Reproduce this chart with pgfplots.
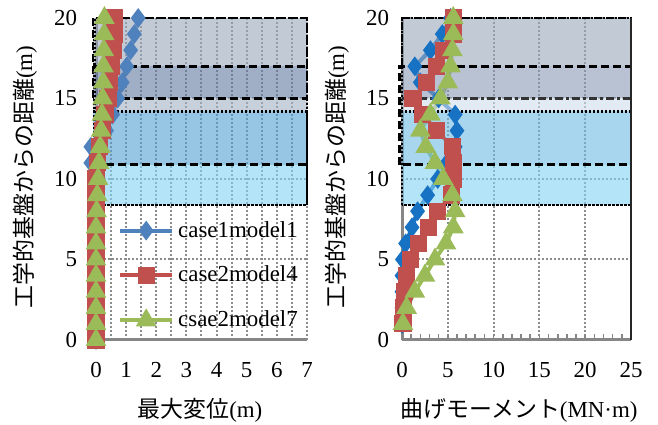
\documentclass[border=0pt]{standalone}
\usepackage{fontspec}
\setmainfont{Liberation Serif}
\newfontfamily\jp{Noto Sans CJK JP}
\usepackage{pgfplots}
\usepackage{pgfplotstable}
\pgfplotsset{compat=1.18}
\definecolor{cB}{RGB}{79,129,189}
\definecolor{cBr}{RGB}{24,114,196}
\definecolor{cR}{RGB}{192,80,77}
\definecolor{cG}{RGB}{155,187,89}
\definecolor{axg}{RGB}{134,134,134}
\definecolor{grd}{RGB}{140,140,140}
\definecolor{bA}{RGB}{153,167,187}
\definecolor{bBl}{RGB}{97,122,160}
\definecolor{bBr}{RGB}{137,153,180}
\definecolor{bCl}{RGB}{163,177,197}
\definecolor{bCr}{RGB}{207,220,237}
\definecolor{bDl}{RGB}{80,160,210}
\definecolor{bDr}{RGB}{110,187,227}
\definecolor{bE}{RGB}{130,210,243}
\pgfplotstableread{
y b r g
0 0 0 0
1 0 0 0
2 0 0 0
3 0 0 0
4 0 0 0
5 0 0 0
6 0 0 0
7 0 0 0
8 0 0 0.02
9 0 0 0.04
10 0 0 0.07
11 -0.17 0.05 0.10
12 -0.17 0.12 0.14
13 0.35 0.22 0.17
14 0.55 0.30 0.20
15 0.72 0.40 0.22
16 0.87 0.45 0.24
17 1.02 0.50 0.25
18 1.15 0.57 0.26
19 1.27 0.60 0.27
20 1.40 0.62 0.28
}\leftdata
\pgfplotstableread{
y b r g
1 0 0.1 0.1
2 0 0.2 0.5
3 0 0.3 1.4
4 0 0.45 2.5
5 0.05 0.9 3.6
6 0.4 1.8 4.8
7 1.1 2.9 5.6
8 1.7 3.9 5.8
9 2.8 5.4 5.5
10 3.9 5.6 4.5
11 4.9 5.6 3.6
12 5.8 5.5 2.6
13 6.0 3.8 2.0
14 5.8 2.2 3.1
15 4.0 1.2 4.2
16 2.0 2.7 5.0
17 1.4 3.8 5.3
18 3.1 4.5 5.5
19 4.4 5.6 5.6
20 5.3 5.6 5.6
}\rightdata
\tikzset{
  dsh/.style={black, line width=1.3bp, dash pattern=on 4bp off 2bp},
  dtt/.style={black, line width=1.2bp, dash pattern=on 1bp off 1bp},
  dsd/.style={black!80, line width=1.2bp, dash pattern=on 4bp off 1.5bp on 1.5bp off 1.5bp},
}
\pgfplotsset{
  common/.style={
    scale only axis, anchor=south west, height=161bp,
    ymin=0, ymax=20, ytick={0,5,...,20},
    clip=false,
    axis x line*=bottom, axis y line*=left,
    axis line style={draw=axg, line width=1.5bp},
    grid style={draw=grd, line width=1bp, dash pattern=on 1bp off 1bp},
    ymajorgrids, xmajorgrids,
    ytick style={draw=none},
    tick label style={font=\fontsize{11.5}{13}\selectfont},
    /pgf/number format/assume math mode=true,
    xticklabel style={yshift=-7.5bp},
    legend image code/.code={\draw[mark repeat=2,mark phase=2,##1] plot coordinates {(0bp,0bp) (13bp,0bp) (26bp,0bp)};},
  },
  pB/.style={line width=2bp, mark=diamond*, mark size=3.3bp, mark options={solid}},
  pR/.style={line width=2bp, mark=square*, mark size=3.3bp, mark options={solid}},
  pG/.style={line width=2bp, mark=triangle*, mark size=4bp, mark options={solid}},
}
\begin{document}
\begin{tikzpicture}
\path[use as bounding box] (0,0) rectangle (329bp,212.5bp);
% left axis
\begin{axis}[common, at={(48bp,42.5bp)}, width=105.5bp,
  xmin=0, xmax=7, xtick={0,...,7}, minor x tick num=1, xminorgrids,
  xtick style={draw=none}, minor tick style={draw=none},
  yticklabel style={xshift=-6bp},
  legend style={draw=none, fill=none, at={(0.075,0.395)}, anchor=north west,
    font=\fontsize{11.5}{13}\selectfont, row sep=9bp, cells={anchor=west}},
]
\addplot[cB, pB] table[x=b,y=y]{\leftdata};
\addplot[cR, pR] table[x=r,y=y]{\leftdata};
\addplot[cG, pG] table[x=g,y=y]{\leftdata};
\legend{case1model1,case2model4,csae2model7}
\fill[bA, fill opacity=0.6] (-0.1,17) rectangle (7,20);
\fill[bBl, fill opacity=0.6] (-0.1,15) rectangle (7,17);
\fill[bCl, fill opacity=0.6] (-0.1,14.2) rectangle (7,15);
\fill[bDl, fill opacity=0.6] (-0.1,10.9) rectangle (7,14.2);
\fill[bE, fill opacity=0.6] (-0.1,8.4) rectangle (7,10.9);
\draw[dtt] (-0.05,8.4) rectangle (7,20);
\draw[dtt] (-0.05,8.4) rectangle (7,14.2);
\draw[dsh] (-0.1,15) rectangle (7,20);
\draw[dsh] (-0.1,17) -- (7,17);
\draw[dsh] (-0.05,10.9) -- (7,10.9);
\end{axis}
% right axis
\begin{axis}[common, at={(201bp,42.5bp)}, width=114.5bp,
  xmin=0, xmax=25, xtick={0,5,...,25}, minor x tick num=4,
  xtick style={draw=axg, line width=0.8bp}, major tick length=3bp, minor tick length=3bp,
  minor tick style={draw=axg, line width=0.8bp},
  yticklabel style={xshift=-3bp},
]
\addplot[cBr, pB] table[x=b,y=y]{\rightdata};
\addplot[cR, pR] table[x=r,y=y]{\rightdata};
\addplot[cG, pG] table[x=g,y=y]{\rightdata};
\fill[bA, fill opacity=0.6] (0,17) rectangle (25,20);
\fill[bBr, fill opacity=0.6] (0,15) rectangle (25,17);
\fill[bCr, fill opacity=0.6] (0,14.2) rectangle (25,15);
\fill[bDr, fill opacity=0.6] (0,10.9) rectangle (25,14.2);
\fill[bE, fill opacity=0.6] (0,8.4) rectangle (25,10.9);
\draw[dtt] (0,8.4) rectangle (25,20);
\draw[dtt] (0,8.4) rectangle (25,14.2);
\draw[dsh] (0,17) rectangle (25,20);
\draw[dsh] (-0.3,10.9) rectangle (25,17);
\draw[dsd] (0,15) -- (25,15);
\draw[black!85, line width=1bp] (25,0) -- (25,20);
\end{axis}
% axis titles
\node[rotate=90, font=\fontsize{11.5}{13}\selectfont] at (12.5bp,124bp) {{\jp 工学的基盤からの距離}(m)};
\node[rotate=90, font=\fontsize{11.5}{13}\selectfont] at (168.5bp,124bp) {{\jp 工学的基盤からの距離}(m)};
\node[font=\fontsize{11.5}{13}\selectfont] at (100bp,7.5bp) {{\jp 最大変位}(m)};
\node[font=\fontsize{11.5}{13}\selectfont] at (259.5bp,7.5bp) {{\jp 曲げモーメント}(MN·m)};
\end{tikzpicture}
\end{document}
